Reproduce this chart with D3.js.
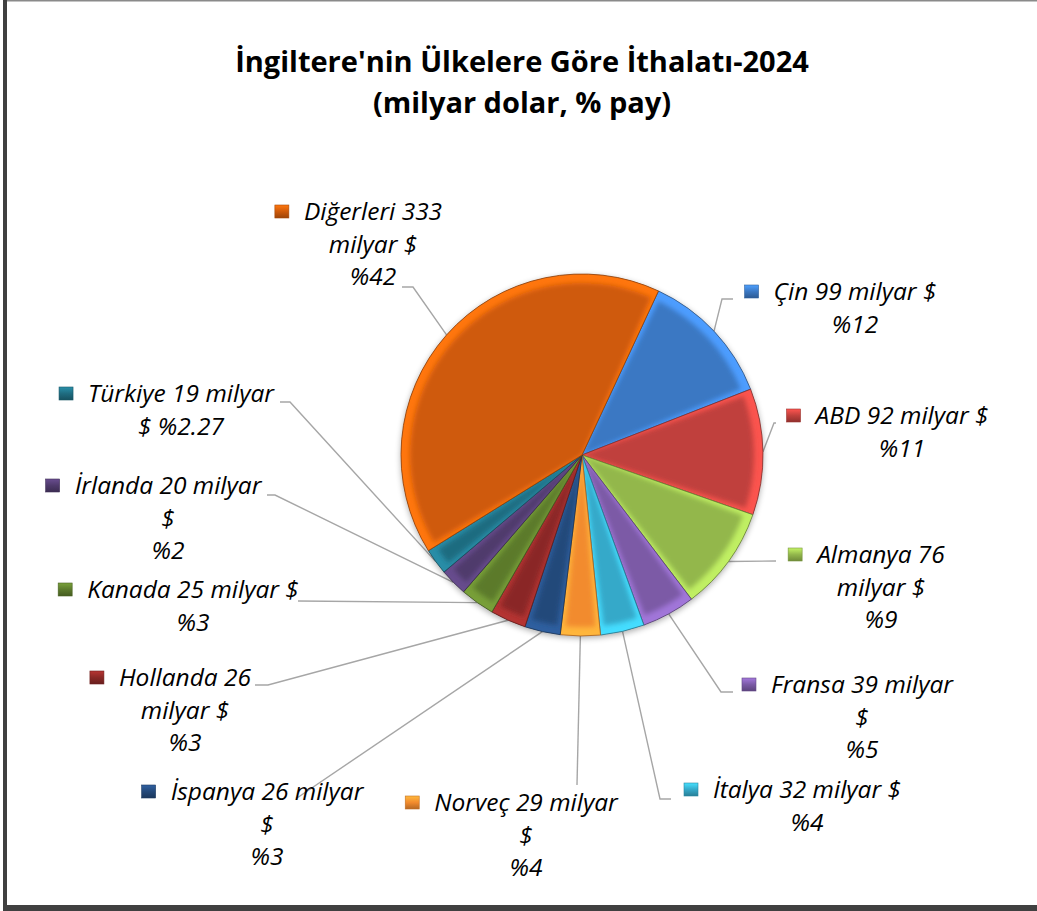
<!DOCTYPE html>
<html>
<head>
<meta charset="utf-8">
<script src="https://cdn.jsdelivr.net/npm/d3@7"></script>
<style>
  body { margin: 0; background: #fff; }
  text { font-family: "Open Sans", Lato, sans-serif; }
</style>
</head>
<body>
<div id="container"></div>
<script>
var width = 1037;
var height = 911;

// data
var countries = ["Çin", "ABD", "Almanya", "Fransa", "İtalya", "Norveç", "İspanya", "Hollanda", "Kanada", "İrlanda", "Türkiye", "Diğerleri"];
var values = [99, 92, 76, 39, 32, 29, 26, 26, 25, 20, 19, 333];
var shares = ["12", "11", "9", "5", "4", "4", "3", "3", "3", "2", "2.27", "42"];
var colors = ["#3b78c3", "#c0403c", "#93b74c", "#7b5aa6", "#35a9c9", "#f28b2e", "#24497a", "#8a2826", "#5c7a2c", "#4f3a6c", "#1f6c80", "#cf5a0a"];

var title1 = "İngiltere'nin Ülkelere Göre İthalatı-2024";
var title2 = "(milyar dolar, % pay)";

// label placement: block centre, first baseline, word breaks, leader start + elbow
var labelLayout = [
    {cx: 855, y: 300, breaks: [4],    lx: 733, ly: 299, ex: 722},
    {cx: 902, y: 424, breaks: [4],    lx: 776, ly: 423, ex: 774},
    {cx: 881, y: 563, breaks: [2, 4], lx: 776, ly: 561, ex: 776},
    {cx: 862, y: 693, breaks: [3, 4], lx: 733, ly: 692, ex: 721},
    {cx: 807, y: 798, breaks: [4],    lx: 671, ly: 799, ex: 660},
    {cx: 526, y: 811, breaks: [3, 4], lx: 577, ly: 785, ex: 577},
    {cx: 267, y: 800, breaks: [3, 4], lx: 297, ly: 798, ex: 297},
    {cx: 185, y: 686, breaks: [2, 4], lx: 255, ly: 685, ex: 268},
    {cx: 193, y: 598, breaks: [4],    lx: 298, ly: 601, ex: 298},
    {cx: 168, y: 494, breaks: [3, 4], lx: 267, ly: 495, ex: 275},
    {cx: 181, y: 402, breaks: [3],    lx: 280, ly: 402, ex: 290},
    {cx: 373, y: 220, breaks: [2, 4], lx: 402, ly: 287, ex: 413}
];

var cx = 582, cy = 455, radius = 181;
var lineGap = 32.5;

var svg = d3.select('#container').append('svg').attr('width', width).attr('height', height);
var defs = svg.append('defs');

// frame
svg.append('rect').attr('x', 0).attr('y', 0).attr('width', width).attr('height', height).attr('fill', '#fff');
svg.append('rect').attr('x', 3).attr('y', 0).attr('width', width).attr('height', 1.5).attr('fill', '#8a8a8a');
svg.append('rect').attr('x', 3).attr('y', 0).attr('width', 4).attr('height', height).attr('fill', '#404040');
svg.append('rect').attr('x', 3).attr('y', 905).attr('width', width).attr('height', 6).attr('fill', '#404040');

// title
svg.append('text').attr('x', 522).attr('y', 72).attr('text-anchor', 'middle')
    .attr('font-weight', 'bold').attr('font-size', '29px').attr('fill', '#000').text(title1);
svg.append('text').attr('x', 522).attr('y', 113).attr('text-anchor', 'middle')
    .attr('font-weight', 'bold').attr('font-size', '29px').attr('fill', '#000').text(title2);

var pie = d3.pie().sort(null)
    .startAngle(25 * Math.PI / 180)
    .endAngle(385 * Math.PI / 180);
var arcs = pie(values);

var arc = d3.arc().innerRadius(0).outerRadius(radius);
var innerArc = d3.arc().innerRadius(0).outerRadius(radius - 9).padAngle(0.045).padRadius(radius);
var edgeArc = d3.arc().innerRadius(radius).outerRadius(radius);

var blur = defs.append('filter').attr('id', 'soft').attr('x', '-20%').attr('y', '-20%').attr('width', '140%').attr('height', '140%');
blur.append('feGaussianBlur').attr('stdDeviation', 2.8);

var shadow = defs.append('filter').attr('id', 'shadow').attr('x', '-20%').attr('y', '-20%').attr('width', '140%').attr('height', '140%');
shadow.append('feGaussianBlur').attr('in', 'SourceAlpha').attr('stdDeviation', 3);
shadow.append('feOffset').attr('dx', 0).attr('dy', 2).attr('result', 'b');
shadow.append('feComponentTransfer').append('feFuncA').attr('type', 'linear').attr('slope', 0.35);
var merge = shadow.append('feMerge');
merge.append('feMergeNode');
merge.append('feMergeNode').attr('in', 'SourceGraphic');

arcs.forEach(function(d, i) {
    defs.append('clipPath').attr('id', 'clip-' + i)
        .append('path').attr('d', arc(d));
});

// legend key gradient
colors.forEach(function(c, i) {
    var g = defs.append('linearGradient').attr('id', 'key-' + i)
        .attr('x1', 0).attr('y1', 0).attr('x2', 0).attr('y2', 1);
    g.append('stop').attr('offset', '0%').attr('stop-color', d3.rgb(c).brighter(0.8));
    g.append('stop').attr('offset', '50%').attr('stop-color', c);
    g.append('stop').attr('offset', '100%').attr('stop-color', d3.rgb(c).darker(0.8));
});

// leader lines (under the pie)
var leaders = svg.append('g');
arcs.forEach(function(d, i) {
    var L = labelLayout[i];
    var e = edgeArc.centroid(d);
    leaders.append('path')
        .attr('d', 'M' + L.lx + ',' + L.ly + 'L' + L.ex + ',' + L.ly + 'L' + (cx + e[0]) + ',' + (cy + e[1]))
        .attr('fill', 'none').attr('stroke', '#a6a6a6').attr('stroke-width', 1.4);
});

var pieG = svg.append('g').attr('transform', 'translate(' + cx + ',' + cy + ')');
pieG.append('circle').attr('r', radius).attr('fill', '#888').attr('filter', 'url(#shadow)');

var slices = pieG.selectAll('g.slice').data(arcs).enter().append('g').attr('class', 'slice');
slices.append('path').attr('d', arc)
    .attr('fill', function(d, i) { return d3.rgb(colors[i]).brighter(0.75); });
slices.append('g').attr('clip-path', function(d, i) { return 'url(#clip-' + i + ')'; })
    .append('path').attr('d', innerArc)
    .attr('fill', function(d, i) { return colors[i]; })
    .attr('filter', 'url(#soft)');
slices.append('path').attr('d', arc)
    .attr('fill', 'none')
    .attr('stroke', function(d, i) { return d3.rgb(colors[i]).darker(1); })
    .attr('stroke-width', 0.8);

// labels
var labels = svg.append('g');
arcs.forEach(function(d, i) {
    var L = labelLayout[i];
    var words = [countries[i], String(values[i]), 'milyar', '$', '%' + shares[i]];
    var cuts = [0].concat(L.breaks).concat([words.length]);
    var lines = [];
    for (var k = 0; k < cuts.length - 1; k++) lines.push(words.slice(cuts[k], cuts[k + 1]).join(' '));
    var first;
    lines.forEach(function(t, k) {
        var tx = labels.append('text')
            .attr('x', L.cx).attr('y', L.y + k * lineGap)
            .attr('text-anchor', 'middle')
            .attr('font-style', 'italic').attr('font-size', '24.5px').attr('fill', '#000')
            .text(t);
        if (k === 0) first = tx;
    });
    var w = first.node().getComputedTextLength();
    labels.append('rect')
        .attr('x', L.cx - w / 2 - 29).attr('y', L.y - 15)
        .attr('width', 14).attr('height', 13)
        .attr('fill', 'url(#key-' + i + ')')
        .attr('stroke', d3.rgb(colors[i]).darker(0.6)).attr('stroke-width', 0.6);
});
</script>
</body>
</html>
